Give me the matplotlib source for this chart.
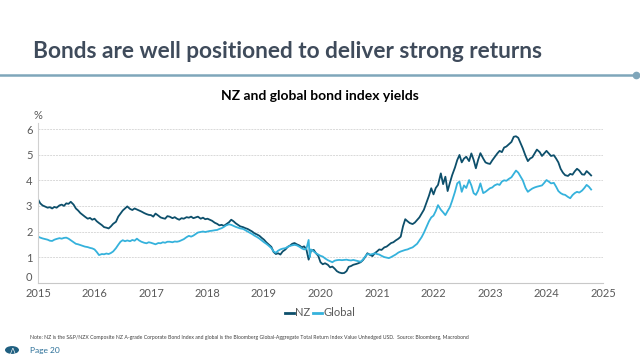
import matplotlib
matplotlib.use("Agg")
import matplotlib.pyplot as plt
from matplotlib.patches import Circle

# ---------------- data (decimal year, yield %) ----------------
nz_x = [2015.00,2015.04,2015.08,2015.13,2015.17,2015.21,2015.25,2015.29,2015.33,2015.38,2015.42,2015.46,2015.50,2015.54,2015.58,2015.63,2015.67,2015.71,2015.75,2015.79,2015.83,2015.88,2015.92,2015.96,
        2016.00,2016.04,2016.08,2016.13,2016.17,2016.21,2016.25,2016.29,2016.33,2016.38,2016.42,2016.46,2016.50,2016.54,2016.58,2016.63,2016.67,2016.71,2016.75,2016.79,2016.83,2016.88,2016.92,2016.96,
        2017.00,2017.04,2017.08,2017.13,2017.17,2017.21,2017.25,2017.29,2017.33,2017.38,2017.42,2017.46,2017.50,2017.54,2017.58,2017.63,2017.67,2017.71,2017.75,2017.79,2017.83,2017.88,2017.92,2017.96,
        2018.00,2018.04,2018.08,2018.13,2018.17,2018.21,2018.25,2018.29,2018.33,2018.38,2018.42,2018.46,2018.50,2018.54,2018.58,2018.63,2018.67,2018.71,2018.75,2018.79,2018.83,2018.88,2018.92,2018.96,
        2019.00,2019.04,2019.08,2019.13,2019.17,2019.21,2019.25,2019.29,2019.33,2019.38,2019.42,2019.46,2019.50,2019.54,2019.58,2019.63,2019.67,2019.71,2019.75,2019.79,2019.83,2019.88,2019.92,2019.96,
        2020.00,2020.04,2020.08,2020.13,2020.17,2020.21,2020.25,2020.29,2020.33,2020.38,2020.42,2020.46,2020.50,2020.54,2020.58,2020.63,2020.67,2020.71,2020.75,2020.79,2020.83,2020.88,2020.92,2020.96,
        2021.00,2021.04,2021.08,2021.13,2021.17,2021.21,2021.25,2021.29,2021.33,2021.38,2021.42,2021.46,2021.50,2021.54,2021.58,2021.63,2021.67,2021.71,2021.75,2021.79,2021.83,2021.88,2021.92,2021.96,
        2022.00,2022.04,2022.08,2022.13,2022.17,2022.21,2022.25,2022.29,2022.33,2022.38,2022.42,2022.46,2022.50,2022.54,2022.58,2022.63,2022.67,2022.71,2022.75,2022.79,2022.83,2022.88,2022.92,2022.96,
        2023.00,2023.04,2023.08,2023.13,2023.17,2023.21,2023.25,2023.29,2023.33,2023.38,2023.42,2023.46,2023.50,2023.54,2023.58,2023.63,2023.67,2023.71,2023.75,2023.79,2023.83,2023.88,2023.92,2023.96,
        2024.00,2024.04,2024.08,2024.13,2024.17,2024.21,2024.25,2024.29,2024.33,2024.38,2024.42,2024.46,2024.50,2024.54,2024.58,2024.63,2024.67,2024.71,2024.75,2024.79]
nz_y = [3.26,3.10,3.02,2.97,2.93,2.95,2.90,2.96,2.93,3.02,3.05,3.00,3.10,3.08,3.16,3.05,2.90,2.82,2.72,2.65,2.58,2.50,2.53,2.46,
        2.50,2.40,2.33,2.25,2.17,2.15,2.12,2.20,2.30,2.38,2.58,2.70,2.82,2.90,2.98,2.88,2.84,2.90,2.86,2.82,2.78,2.72,2.68,2.65,
        2.64,2.58,2.70,2.62,2.55,2.52,2.50,2.60,2.58,2.52,2.56,2.50,2.46,2.52,2.50,2.56,2.54,2.58,2.52,2.55,2.58,2.50,2.54,2.48,
        2.50,2.46,2.42,2.34,2.30,2.24,2.26,2.22,2.28,2.36,2.46,2.40,2.32,2.26,2.20,2.17,2.13,2.10,2.05,2.00,1.93,1.88,1.83,1.75,
        1.68,1.58,1.50,1.40,1.20,1.12,1.15,1.10,1.22,1.30,1.40,1.45,1.52,1.55,1.50,1.45,1.38,1.42,1.30,0.90,1.25,1.28,1.15,1.05,
        0.80,0.72,0.76,0.70,0.60,0.63,0.55,0.45,0.40,0.37,0.38,0.45,0.62,0.65,0.70,0.73,0.76,0.80,0.88,1.00,1.15,1.08,1.04,1.15,
        1.22,1.30,1.28,1.38,1.41,1.48,1.55,1.58,1.65,1.72,1.80,2.20,2.48,2.40,2.33,2.29,2.35,2.45,2.55,2.70,2.85,3.16,3.40,3.69,
        3.45,3.70,3.82,4.27,3.85,4.14,3.58,3.90,4.20,4.50,4.79,4.99,4.70,4.85,4.92,4.75,5.05,4.80,4.47,4.80,5.06,4.85,4.70,4.66,
        4.64,4.78,4.90,5.05,5.15,5.10,5.28,5.32,5.40,5.50,5.70,5.72,5.66,5.45,5.25,4.95,4.75,4.85,4.90,5.05,5.20,5.10,4.95,5.05,
        5.15,5.05,4.95,4.98,4.85,4.70,4.45,4.30,4.20,4.17,4.25,4.22,4.35,4.45,4.38,4.23,4.22,4.36,4.28,4.19]

gl_x = [2015.00,2015.04,2015.08,2015.13,2015.17,2015.21,2015.25,2015.29,2015.33,2015.38,2015.42,2015.46,2015.50,2015.54,2015.58,2015.63,2015.67,2015.71,2015.75,2015.79,2015.83,2015.88,2015.92,2015.96,
        2016.00,2016.04,2016.08,2016.13,2016.17,2016.21,2016.25,2016.29,2016.33,2016.38,2016.42,2016.46,2016.50,2016.54,2016.58,2016.63,2016.67,2016.71,2016.75,2016.79,2016.83,2016.88,2016.92,2016.96,
        2017.00,2017.04,2017.08,2017.13,2017.17,2017.21,2017.25,2017.29,2017.33,2017.38,2017.42,2017.46,2017.50,2017.54,2017.58,2017.63,2017.67,2017.71,2017.75,2017.79,2017.83,2017.88,2017.92,2017.96,
        2018.00,2018.04,2018.08,2018.13,2018.17,2018.21,2018.25,2018.29,2018.33,2018.38,2018.42,2018.46,2018.50,2018.54,2018.58,2018.63,2018.67,2018.71,2018.75,2018.79,2018.83,2018.88,2018.92,2018.96,
        2019.00,2019.04,2019.08,2019.13,2019.17,2019.21,2019.25,2019.29,2019.33,2019.38,2019.42,2019.46,2019.50,2019.54,2019.58,2019.63,2019.67,2019.71,2019.75,2019.79,2019.81,2019.83,2019.88,2019.92,2019.96,
        2020.00,2020.04,2020.08,2020.13,2020.17,2020.21,2020.25,2020.29,2020.33,2020.38,2020.42,2020.46,2020.50,2020.54,2020.58,2020.63,2020.67,2020.71,2020.75,2020.79,2020.83,2020.88,2020.92,2020.96,
        2021.00,2021.04,2021.08,2021.13,2021.17,2021.21,2021.25,2021.29,2021.33,2021.38,2021.42,2021.46,2021.50,2021.54,2021.58,2021.63,2021.67,2021.71,2021.75,2021.79,2021.83,2021.88,2021.92,2021.96,
        2022.00,2022.04,2022.08,2022.13,2022.17,2022.21,2022.25,2022.29,2022.33,2022.38,2022.42,2022.46,2022.50,2022.54,2022.58,2022.63,2022.67,2022.71,2022.75,2022.79,2022.83,2022.88,2022.92,2022.96,
        2023.00,2023.04,2023.08,2023.13,2023.17,2023.21,2023.25,2023.29,2023.33,2023.38,2023.42,2023.46,2023.50,2023.54,2023.58,2023.63,2023.67,2023.71,2023.75,2023.79,2023.83,2023.88,2023.92,2023.96,
        2024.00,2024.04,2024.08,2024.13,2024.17,2024.21,2024.25,2024.29,2024.33,2024.38,2024.42,2024.46,2024.50,2024.54,2024.58,2024.63,2024.67,2024.71,2024.75,2024.79]
gl_y = [1.80,1.76,1.73,1.70,1.68,1.64,1.63,1.68,1.71,1.74,1.72,1.75,1.76,1.72,1.66,1.58,1.52,1.50,1.47,1.44,1.41,1.39,1.36,1.34,
        1.30,1.20,1.08,1.12,1.11,1.14,1.12,1.16,1.22,1.35,1.48,1.60,1.66,1.62,1.65,1.62,1.67,1.64,1.72,1.65,1.60,1.56,1.54,1.58,
        1.56,1.53,1.50,1.55,1.54,1.58,1.56,1.60,1.60,1.58,1.61,1.60,1.62,1.66,1.70,1.78,1.83,1.80,1.84,1.90,1.96,1.98,2.00,1.98,
        2.00,2.02,2.03,2.05,2.06,2.10,2.13,2.18,2.24,2.28,2.26,2.22,2.18,2.15,2.12,2.10,2.05,2.00,1.95,1.90,1.84,1.78,1.72,1.65,
        1.58,1.52,1.45,1.35,1.22,1.17,1.25,1.30,1.33,1.35,1.40,1.44,1.46,1.48,1.46,1.40,1.34,1.30,1.32,1.67,1.00,1.30,1.22,1.15,1.10,
        1.05,1.02,0.95,0.88,0.84,0.80,0.86,0.88,0.89,0.88,0.89,0.90,0.88,0.87,0.89,0.86,0.84,0.82,0.90,1.02,1.12,1.10,1.12,1.15,
        1.12,1.10,1.05,1.00,0.98,0.96,1.00,1.05,1.10,1.18,1.22,1.25,1.28,1.30,1.34,1.38,1.45,1.52,1.65,1.78,1.95,2.20,2.40,2.55,
        2.62,2.80,3.03,2.85,2.75,2.64,2.80,2.95,3.20,3.55,3.88,3.95,3.55,3.80,3.70,4.01,3.80,3.50,3.43,3.60,3.88,3.50,3.55,3.62,
        3.69,3.72,3.80,3.85,3.82,3.95,4.00,3.98,4.05,4.12,4.25,4.38,4.30,4.15,4.00,3.70,3.55,3.62,3.68,3.72,3.75,3.78,3.80,3.90,
        4.01,3.95,3.88,3.90,3.75,3.58,3.50,3.45,3.43,3.35,3.30,3.42,3.50,3.55,3.52,3.60,3.70,3.82,3.75,3.64]

series_names = ["NZ", "Global"]
x_ticks = [2015, 2016, 2017, 2018, 2019, 2020, 2021, 2022, 2023, 2024, 2025]
y_ticks = [0, 1, 2, 3, 4, 5, 6]

NZ_COL = "#0d4f6b"
GL_COL = "#35b2dc"
GREY = "#595959"

plt.rcParams['font.family'] = ['Lato', 'DejaVu Sans']

fig = plt.figure(figsize=(6.4, 3.59), dpi=100)
fig.patch.set_facecolor("white")

# header
fig.text(33/640, 1 - 52/359, "Bonds are well positioned to deliver strong returns",
         fontsize=16.3, fontweight="bold", color="#3f4b5b", va="center", ha="left")
fig.add_artist(plt.Line2D([0, 636/640], [1 - 75/359, 1 - 75/359], color="#7fa6ba", lw=1.8,
                          transform=fig.transFigure))
fig.add_artist(plt.Line2D([636/640], [1 - 75/359], marker="o", markersize=4.5, color="#7fa6ba",
                          transform=fig.transFigure))

ax = fig.add_axes([38/640, 1 - 282.7/359, (603 - 38)/640, (282.7 - 122.7)/359])
ax.plot(nz_x, nz_y, color=NZ_COL, lw=1.3, label=series_names[0], solid_joinstyle="round")
ax.plot(gl_x, gl_y, color=GL_COL, lw=1.3, label=series_names[1], solid_joinstyle="round")

ax.set_xlim(2015, 2025)
ax.set_ylim(0, 6.25)
ax.set_xticks(x_ticks)
ax.set_xticklabels([str(t) for t in x_ticks])
ax.set_yticks(y_ticks)
ax.set_yticklabels([str(t) for t in y_ticks])
ax.tick_params(axis="both", length=0, labelsize=8, colors=GREY)
ax.tick_params(axis="x", pad=3.5)
ax.tick_params(axis="y", pad=4)
ax.grid(axis="y", color="#d9d9d9", lw=0.7, ls=(0, (2, 1)))
ax.set_axisbelow(True)
for s in ["top", "right"]:
    ax.spines[s].set_visible(False)
ax.spines["left"].set_color("#d0d0d0")
ax.spines["bottom"].set_color("#c8c8c8")
ax.spines["left"].set_linewidth(0.8)
ax.spines["bottom"].set_linewidth(0.8)
# nudge the "0" tick label up so it does not collide with "2015"
for lbl in ax.get_yticklabels():
    if lbl.get_text() == "0":
        lbl.set_va("bottom")

fig.text(38/640, 1 - 115/359, "%", fontsize=8, color=GREY, ha="center", va="center")
fig.text(320/640, 1 - 96/359, "NZ and global bond index yields", fontsize=10, fontweight="bold",
         color="black", ha="center", va="center")

leg = fig.legend(loc="center", bbox_to_anchor=(320/640, 1 - 313/359), ncol=2, frameon=False,
                 fontsize=8, handlelength=0.8, handletextpad=0.15, columnspacing=0.2,
                 labelcolor=GREY)
for line in leg.get_lines():
    line.set_linewidth(2)

fig.text(30/640, 1 - 337/359,
         "Note: NZ is the S&P/NZX Composite NZ A-grade Corporate Bond Index and global is the Bloomberg "
         "Global-Aggregate Total Return Index Value Unhedged USD.  Source: Bloomberg, Macrobond",
         fontsize=3.7, color="#404040", ha="left", va="center")

# footer logo + page
fig.add_artist(Circle((12/640, 1 - 350/359), 7/640, transform=fig.transFigure,
                      facecolor="#1f5f80", edgecolor="none"))
fig.text(12/640, 1 - 350/359, "⋀", fontsize=5, color="white", ha="center", va="center")
fig.text(30/640, 1 - 350/359, "Page 20", fontsize=6, color="#2a6f98", ha="left", va="center")

fig.savefig("out.png", dpi=100, facecolor="white")
